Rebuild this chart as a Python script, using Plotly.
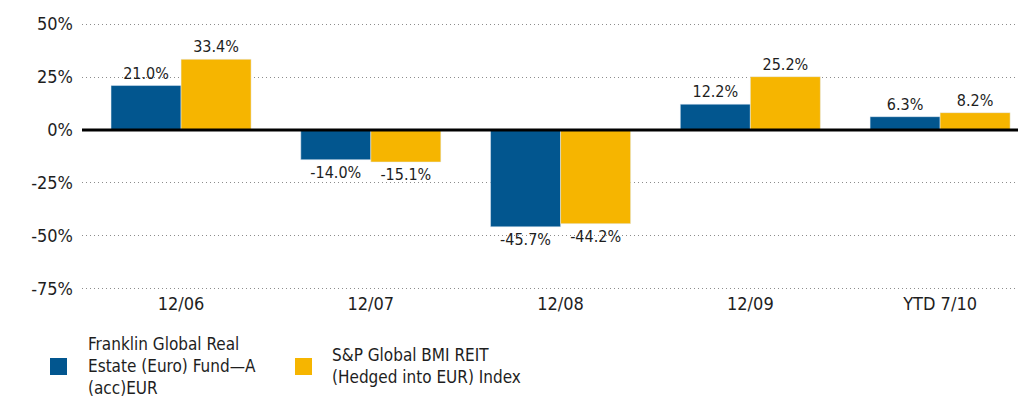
import plotly.graph_objects as go

categories = ["12/06", "12/07", "12/08", "12/09", "YTD 7/10"]
fund_values = [21.0, -14.0, -45.7, 12.2, 6.3]
index_values = [33.4, -15.1, -44.2, 25.2, 8.2]
fund_legend_lines = ["Franklin Global Real", "Estate (Euro) Fund—A", "(acc)EUR"]
index_legend_lines = ["S&P Global BMI REIT", "(Hedged into EUR) Index"]
fund_name = " ".join(fund_legend_lines)
index_name = " ".join(index_legend_lines)
tick_vals = [50, 25, 0, -25, -50, -75]
tick_text = ["50%", "25%", "0%", "-25%", "-50%", "-75%"]

FONT = "Liberation Sans Narrow, DejaVu Sans Condensed, Arial Narrow, sans-serif"
BLUE = "#02568F"
YELLOW = "#F6B500"
TXT = "#1e1e1e"

# the page body adds an 8px offset, so figure coords = screen coords - 8
OFF = 8
W, H = 1026, 401
ML, MR, MT, MB = 82 - OFF, 14, 22 - OFF, H - (291 - OFF)
PW, PH = W - ML - MR, H - MT - MB


def px_x(px):
    return (px - OFF - ML) / PW


def px_y(py):
    return (H - MB - (py - OFF)) / PH


fig = go.Figure()
fig.add_trace(go.Bar(
    x=categories, y=fund_values, name=fund_name, marker_color=BLUE,
    text=[f"{v:.1f}%" for v in fund_values], textposition="outside",
    textfont=dict(size=16, color=TXT, family=FONT), cliponaxis=False,
))
fig.add_trace(go.Bar(
    x=categories, y=index_values, name=index_name, marker_color=YELLOW,
    text=[f"{v:.1f}%" for v in index_values], textposition="outside",
    textfont=dict(size=16, color=TXT, family=FONT), cliponaxis=False,
))

# zero line running to the right edge, drawn above the bars
fig.add_shape(
    type="line", xref="paper", yref="y", x0=0, x1=px_x(1030), y0=0, y1=0,
    line=dict(color="#000", width=3), layer="above",
)

# manual legend below the plot
legend_items = [
    (BLUE, fund_legend_lines, 50, 86),
    (YELLOW, index_legend_lines, 295, 330),
]
for color, lines, sq_x, tx_x in legend_items:
    fig.add_shape(
        type="rect", xref="paper", yref="paper",
        x0=px_x(sq_x), x1=px_x(sq_x + 17), y0=px_y(375), y1=px_y(358),
        fillcolor=color, line=dict(width=0), layer="above",
    )
    n = len(lines)
    center = 366
    for i, line in enumerate(lines):
        cy = center + (i - (n - 1) / 2) * 22
        fig.add_annotation(
            xref="paper", yref="paper", x=px_x(tx_x), y=px_y(cy),
            xanchor="left", yanchor="middle", text=line, showarrow=False,
            font=dict(size=17, color=TXT, family=FONT),
        )

fig.update_layout(
    width=W, height=H,
    margin=dict(l=ML, r=MR, t=MT, b=MB, autoexpand=False),
    paper_bgcolor="white", plot_bgcolor="white",
    barmode="group", bargap=0.262, bargroupgap=0,
    font=dict(family=FONT, size=18, color=TXT),
    showlegend=False,
)
fig.update_xaxes(
    type="category", range=[-0.522, 4.421], showgrid=False, showline=False,
    ticks="", tickfont=dict(size=18, color=TXT, family=FONT),
)
fig.update_yaxes(
    range=[-76, 51], tickvals=tick_vals, ticktext=tick_text,
    showgrid=True, gridcolor="#8c8c8c", griddash="1px,3px", gridwidth=1.2,
    zeroline=False,
    showline=False, ticks="", ticklabelstandoff=8,
    tickfont=dict(size=18, color=TXT, family=FONT),
)

fig.write_html("out.html")
